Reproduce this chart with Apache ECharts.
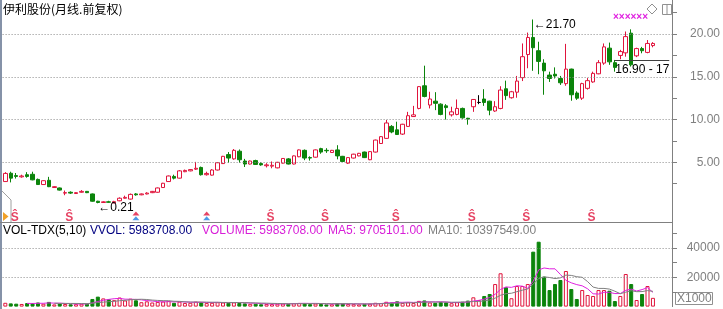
<!DOCTYPE html>
<html><head><meta charset="utf-8">
<script src="https://cdn.jsdelivr.net/npm/echarts@6/dist/echarts.min.js"></script>
<style>html,body{margin:0;padding:0;background:#fff}#c{width:723px;height:309px}</style>
</head><body><div id="c"></div>
<script>
// ---- data (monthly candles, forward-adjusted) ----
const opens = [2.75,3.72,3.45,3.3,3.55,3.6,3.0,2.4,2.9,2.05,2.0,1.4,1.5,1.35,1.5,1.6,1.3,0.45,0.3,0.38,
0.25,0.5,0.8,0.7,1.3,1.2,1.3,1.45,1.5,2.05,2.75,3.35,3.15,3.9,4.0,4.2,4.4,3.55,3.5,4.1,
4.85,5.9,5.4,6.3,5.15,4.8,5.2,4.85,4.6,4.55,4.35,4.9,5.4,4.8,5.65,6.4,5.55,5.6,6.6,6.4,
6.15,6.45,5.7,4.9,5.5,5.75,6.2,5.3,6.2,7.2,7.8,9.2,8.8,8.3,9.2,10.35,11.3,13.95,11.7,12.15,
11.8,11.6,10.55,10.6,11.3,10.15,11.5,12.0,12.4,12.15,11.0,11.3,13.6,12.55,13.2,14.9,17.6,19.6,18.05,16.6,
15.2,15.3,14.8,14.2,15.9,13.1,12.5,13.65,14.4,15.35,16.6,18.35,16.65,17.5,17.8,20.1,17.45,18.3,17.85,18.65];
const closes = [3.7,3.15,3.35,3.4,3.35,2.95,2.4,2.85,2.15,2.15,1.75,1.45,1.4,1.45,1.6,1.45,0.45,0.3,0.38,0.33,
0.4,0.8,0.9,1.25,1.2,1.3,1.4,1.6,2.0,2.55,3.4,3.15,4.0,4.05,4.15,4.3,3.55,3.7,4.1,4.95,
5.7,5.5,6.4,5.3,4.8,5.15,4.75,4.7,4.7,4.65,5.0,5.45,4.8,5.75,6.45,5.5,5.5,6.45,6.2,6.35,
6.4,5.75,5.1,5.55,5.95,6.05,5.55,6.25,7.6,8.0,9.6,8.55,8.25,9.45,10.45,10.55,13.85,12.7,12.4,11.9,
10.6,11.4,10.9,11.3,10.2,10.05,12.35,12.0,12.0,11.1,11.5,13.45,12.8,13.25,14.5,17.35,19.6,18.4,16.8,15.7,
14.8,15.1,14.3,15.9,12.9,12.5,14.2,14.55,15.4,16.65,18.5,16.75,16.1,17.95,19.7,16.4,18.3,18.05,18.9,18.9];
const lows = [2.7,2.65,3.1,3.2,3.2,2.9,2.35,2.35,2.1,2.0,1.7,1.15,1.3,1.3,1.45,1.4,0.4,0.21,0.25,0.28,
0.22,0.45,0.75,0.65,1.1,1.15,1.25,1.4,1.45,2.0,2.7,3.0,3.1,3.85,3.95,4.1,3.45,3.45,3.45,4.05,
4.8,4.95,5.3,4.95,4.45,4.75,4.7,4.6,4.4,4.3,4.3,4.85,4.75,4.75,5.6,5.25,5.2,5.55,6.0,6.1,
6.1,5.35,5.05,4.8,5.45,5.7,5.5,5.25,6.15,7.15,7.75,8.4,8.2,8.2,9.15,10.3,11.2,12.6,11.3,11.1,
10.5,10.0,10.35,10.5,10.1,9.4,10.9,11.8,11.6,10.5,10.9,11.2,12.3,12.45,12.55,14.5,16.0,15.7,15.3,12.9,
14.4,14.8,14.05,13.95,12.2,12.3,12.3,13.5,14.3,15.3,16.4,16.4,15.6,17.05,17.35,16.2,17.3,17.75,17.75,18.45];
const highs = [3.85,3.9,3.75,3.55,3.85,3.9,3.1,2.9,3.3,2.2,2.05,1.7,1.6,1.5,1.75,1.65,1.35,0.5,0.45,0.5,
0.5,0.9,1.1,1.35,1.4,1.35,1.5,1.65,2.05,2.6,3.45,3.55,4.1,4.15,4.2,5.05,4.5,3.9,4.2,5.0,
5.75,6.2,6.55,6.5,5.4,5.2,5.3,5.0,4.9,5.1,5.05,5.5,5.5,5.8,6.5,6.5,5.7,6.5,6.7,6.65,
6.45,7.0,5.75,5.6,6.0,6.1,6.25,6.3,7.65,8.05,9.95,9.35,9.75,9.5,10.9,11.6,13.9,16.3,13.25,13.2,
11.9,11.8,11.5,12.35,11.4,10.2,12.4,12.85,13.55,12.2,12.15,13.9,14.55,13.35,15.1,18.9,20.17,21.7,19.1,17.05,
15.6,16.1,15.1,18.85,15.95,13.3,14.3,14.85,15.6,16.95,18.9,19.0,16.97,18.15,20.3,20.55,18.4,18.5,19.3,19.05];
const volumes = [2600,2200,2000,1800,2400,2300,2800,2000,3200,1500,2100,1800,1600,1700,2000,1900,
5200,6800,5600,5000,4400,6200,4200,5400,
4300,3000,3600,2800,3200,3500,3900,2600,3400,2500,2600,3400,3000,2400,2600,3000,2800,
2600,2900,2500,2200,1900,2000,1600,1800,1700,2000,2100,1900,2300,2500,2400,1700,2100,1800,1500,1600,2300,2100,1800,1700,1500,1900,2000,2600,2400,
3300,2800,3600,2500,3000,2400,3900,4200,2800,2600,3100,2900,2300,3000,3300,4100,
6350,4500,7250,8600,15400,22750,13200,5700,14050,14050,15400,37500,44300,20500,11300,15400,18150,24300,12000,5200,11300,7900,7250,11300,11300,10850,3800,7250,22250,15400,4500,8600,14040,5984];
const priceLabelTicks = [5,10,15,20];
const priceMinorTicks = [2.5,5,7.5,10,12.5,15,17.5,20,22.5];
const volLabelTicks = [20000,40000];
const volMinorTicks = [10000,20000,30000,40000,50000];
const dividendIdx = [2,12,49,59,72,86,96,108];
const arrowIdx = [24,37];
const rangeIdx = 112;   // start of the "16.90 - 17" marker
const title = '伊利股份(月线.前复权)';
const legendItems = [
  ['VOL-TDX(5,10)', '#000000', 3],
  ['VVOL: 5983708.00', '#000080', 90],
  ['VOLUME: 5983708.00', '#d81ed8', 202],
  ['MA5: 9705101.00', '#d81ed8', 328],
  ['MA10: 10397549.00', '#808080', 428]
];

// ---- build ----
const RED = '#e0143c', GREEN = '#0b840b', AXIS = '#808080', FONT = 'Liberation Sans, Arial, sans-serif';
const N = closes.length;
const categories = [];
for (let i = 0; i < N + 3; i++) categories.push(i < N ? 'm' + i : 'pad' + i);
const candle = opens.map((o, i) => [o, closes[i], lows[i], highs[i]]);
const volData = volumes.map((v, i) => closes[i] >= opens[i]
  ? {value: v, itemStyle: {color: '#fff', borderColor: RED, borderWidth: 1}}
  : {value: v, itemStyle: {color: GREEN, borderColor: GREEN, borderWidth: 1}});
function ma(arr, n) {
  return arr.map((v, i) => {
    if (i < n - 1) return null;
    let s = 0; for (let k = i - n + 1; k <= i; k++) s += arr[k];
    return s / n;
  });
}
let hiIdx = 0; highs.forEach((h, i) => { if (h > highs[hiIdx]) hiIdx = i; });
let loIdx = 0; lows.forEach((l, i) => { if (l < lows[loIdx]) loIdx = i; });

const gridLineStyle = {color: '#8a8a8a', type: [1, 2], width: 1};
const chart = echarts.init(document.getElementById('c'));
const graphics = [
  {type: 'text', left: 3, top: 3, style: {text: title, fill: '#000', font: '12px "Noto Sans CJK SC", sans-serif'}},
  {type: 'rect', shape: {x: 0, y: 0, width: 2, height: 309}, style: {fill: '#8592a8'}},
  {type: 'line', shape: {x1: 0, y1: 222.5, x2: 672.5, y2: 222.5}, style: {stroke: AXIS, lineWidth: 1}},
  {type: 'polyline', shape: {points: [[2, 191], [11, 200], [11, 222]]}, style: {stroke: '#a0a0a0', lineWidth: 1, fill: null}},
  {type: 'polygon', shape: {points: [[3, 212], [3, 221], [8.5, 216.5]]}, style: {fill: '#f0a028'}},
  {type: 'text', x: 613, y: 12, style: {text: '××××××', fill: '#e020e0', font: 'bold 10px ' + FONT}},
  {type: 'polygon', shape: {points: [[652, 4], [657, 9], [652, 14], [647, 9]]}, style: {fill: '#fff', stroke: '#909090', lineWidth: 1}},
  {type: 'rect', shape: {x: 662.5, y: 4.5, width: 9, height: 10}, style: {fill: '#fff', stroke: '#909090', lineWidth: 1}},
  {type: 'line', shape: {x1: 667, y1: 4.5, x2: 667, y2: 14.5}, style: {stroke: '#909090', lineWidth: 1}},
  {type: 'rect', shape: {x: 675.5, y: 292.5, width: 37, height: 12}, style: {fill: '#fff', stroke: '#909090', lineWidth: 1}},
  {type: 'text', x: 677, y: 293, style: {text: 'X1000', fill: '#808080', font: '12px ' + FONT}}
];
legendItems.forEach(it => graphics.push({type: 'text', x: it[2], y: 225, style: {text: it[0], fill: it[1], font: '12px ' + FONT}}));

chart.setOption({
  animation: false,
  backgroundColor: '#fff',
  grid: [
    {left: 2.6, right: 50.6, top: 0, height: 222},
    {left: 2.6, right: 50.6, top: 222, bottom: 2.4}
  ],
  xAxis: [
    {type: 'category', gridIndex: 0, data: categories, boundaryGap: true, show: false},
    {type: 'category', gridIndex: 1, data: categories, boundaryGap: true, show: false}
  ],
  yAxis: [
    {type: 'value', gridIndex: 0, position: 'right', min: -1.98, max: 23.98, scale: true,
      axisLine: {show: true, lineStyle: {color: AXIS}},
      axisTick: {show: true, length: 5, customValues: priceMinorTicks, lineStyle: {color: AXIS}},
      axisLabel: {show: true, customValues: priceLabelTicks, formatter: v => v.toFixed(2), color: AXIS,
        fontSize: 12, fontFamily: FONT, align: 'right', margin: 48},
      splitLine: {show: false}},
    {type: 'value', gridIndex: 1, position: 'right', min: 0, max: 57750,
      axisLine: {show: true, lineStyle: {color: AXIS}},
      axisTick: {show: true, length: 5, customValues: volMinorTicks, lineStyle: {color: AXIS}},
      axisLabel: {show: true, customValues: volLabelTicks, formatter: v => String(v), color: AXIS,
        fontSize: 12, fontFamily: FONT, align: 'right', margin: 48},
      splitLine: {show: false}}
  ],
  series: [
    {type: 'candlestick', xAxisIndex: 0, yAxisIndex: 0, data: candle, barWidth: 4,
      itemStyle: {color: '#fff', color0: GREEN, borderColor: RED, borderColor0: GREEN, borderColorDoji: '#000', borderWidth: 1},
      markLine: {silent: true, symbol: ['none', 'none'], label: {show: false}, animation: false,
        data: priceLabelTicks.map(v => ({yAxis: v, lineStyle: gridLineStyle}))
          .concat([[{coord: [rangeIdx, highs[rangeIdx]], lineStyle: {color: '#404040', type: 'solid', width: 1}},
                    {coord: [N + 2, highs[rangeIdx]]}]])},
      markPoint: {symbol: 'rect', symbolSize: 1, itemStyle: {color: 'rgba(0,0,0,0)'}, silent: true,
        label: {show: true, color: '#000', fontSize: 12, fontFamily: FONT, position: 'right', distance: 0},
        data: [
          {coord: [hiIdx, highs[hiIdx]], label: {formatter: '←' + highs[hiIdx].toFixed(2), offset: [0, 5]}},
          {coord: [loIdx, lows[loIdx]], label: {formatter: '←' + lows[loIdx].toFixed(2), offset: [0, 4]}},
          {coord: [rangeIdx, highs[rangeIdx]], label: {formatter: '16.90 - 17', offset: [0, 10]}}
        ]}},
    {type: 'scatter', xAxisIndex: 0, yAxisIndex: 0, symbolSize: 0, silent: true,
      data: dividendIdx.map(i => [i, -1.45]),
      label: {show: true, position: 'inside', formatter: 'Ŝ', color: RED, fontSize: 12, fontWeight: 'bold', fontFamily: FONT, offset: [-1.5, 0]}},
    {type: 'scatter', xAxisIndex: 0, yAxisIndex: 0, symbol: 'triangle', symbolSize: [7, 4], silent: true,
      itemStyle: {color: RED}, data: arrowIdx.map(i => [i, -1.0])},
    {type: 'scatter', xAxisIndex: 0, yAxisIndex: 0, symbol: 'triangle', symbolSize: [7, 4], silent: true,
      itemStyle: {color: '#2080e0'}, data: arrowIdx.map(i => [i, -1.55])},
    {type: 'bar', xAxisIndex: 1, yAxisIndex: 1, data: volData, barWidth: 4,
      markLine: {silent: true, symbol: ['none', 'none'], label: {show: false},
        data: volLabelTicks.map(v => ({yAxis: v, lineStyle: gridLineStyle}))}},
    {type: 'line', xAxisIndex: 1, yAxisIndex: 1, data: ma(volumes, 5), showSymbol: false, symbol: 'none',
      lineStyle: {color: '#e020e0', width: 1}, silent: true},
    {type: 'line', xAxisIndex: 1, yAxisIndex: 1, data: ma(volumes, 10), showSymbol: false, symbol: 'none',
      lineStyle: {color: '#808080', width: 1}, silent: true}
  ],
  graphic: graphics
});
</script></body></html>
